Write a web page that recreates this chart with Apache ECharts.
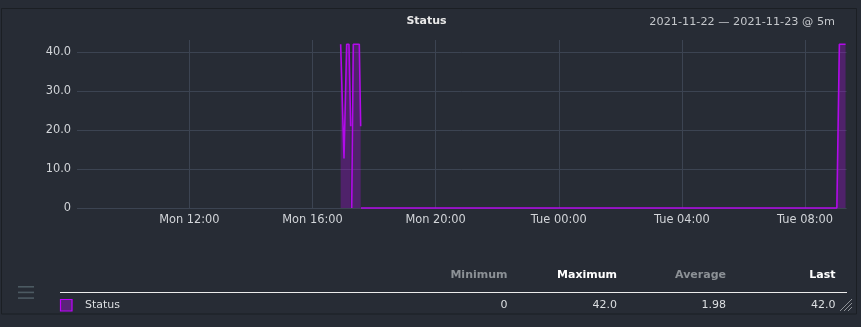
<!DOCTYPE html>
<html>
<head>
<meta charset="utf-8">
<script src="https://cdn.jsdelivr.net/npm/echarts@6/dist/echarts.min.js"></script>
<style>
html,body{margin:0;padding:0;background:#272c35;}
#chart{width:861px;height:327px;}
</style>
</head>
<body>
<div id="chart"></div>
<script>
// time in minutes since Mon 2021-11-22 00:00
const rangeStart = 501;   // Mon 08:21
const rangeEnd = 2001;    // Tue 09:21 (25 h)
const statusTimes  = [1014.9, 1021.4, 1026.6, 1031.1, 1034.4, 1035.4, 1036.4, 1039.5, 1051.2, 1053.9, 1054.2, 1054.5, 1982, 1986.9, 1999];
const statusValues = [42,     12.7,   42,     42,     21,     null,   0,      42,     42,     21,     null,   0,      0,    42,     42];
const xTickMinutes = [720, 960, 1200, 1440, 1680, 1920];
const xTickLabels  = ['Mon 12:00', 'Mon 16:00', 'Mon 20:00', 'Tue 00:00', 'Tue 04:00', 'Tue 08:00'];
const yTicks = [0, 10, 20, 30, 40];
const chartTitle = 'Status';
const rangeText = '2021-11-22 \u2014 2021-11-23 @ 5m';
const legendHeaders = ['Minimum', 'Maximum', 'Average', 'Last'];
const legendValues = ['0', '42.0', '1.98', '42.0'];
const seriesName = 'Status';

const lineColor = '#b20aea';
const fillColor = 'rgba(178,10,234,0.42)';

const data = statusTimes.map((t, i) => [t, statusValues[i] === null ? '-' : statusValues[i]]);

const chart = echarts.init(document.getElementById('chart'), null, {renderer: 'canvas'});

const headerX = [507.5, 617, 726, 835.5];
const headerColors = ['#8c9196', '#ffffff', '#8c9196', '#ffffff'];

const graphics = [
  {type: 'rect', shape: {x: 1.5, y: 8.5, width: 855, height: 305.5}, style: {fill: 'none', stroke: '#1b1f24', lineWidth: 1}, silent: true},
  {type: 'text', x: 426.5, y: 21.5, style: {text: chartTitle, font: 'bold 11px "DejaVu Sans"', fill: '#e8e8e8', textAlign: 'center', textVerticalAlign: 'middle'}},
  {type: 'text', x: 835, y: 22, style: {text: rangeText, font: '11.25px "DejaVu Sans"', fill: '#c4c7cb', textAlign: 'right', textVerticalAlign: 'middle'}},
  {type: 'line', shape: {x1: 60, y1: 292.5, x2: 847, y2: 292.5}, style: {stroke: '#ececec', lineWidth: 1.2}},
  {type: 'rect', shape: {x: 60.5, y: 299.5, width: 11.5, height: 11.5}, style: {fill: '#5a2479', stroke: '#c000ff', lineWidth: 1.2}},
  {type: 'text', x: 85, y: 305, style: {text: seriesName, font: '11px "DejaVu Sans"', fill: '#dcdfe2', textAlign: 'left', textVerticalAlign: 'middle'}},
  // hamburger
  {type: 'rect', shape: {x: 18, y: 286, width: 16, height: 1.6}, style: {fill: '#4c5a62'}},
  {type: 'rect', shape: {x: 18, y: 291.6, width: 16, height: 1.6}, style: {fill: '#4c5a62'}},
  {type: 'rect', shape: {x: 18, y: 297.3, width: 16, height: 1.6}, style: {fill: '#4c5a62'}},
  // resize grip
  {type: 'line', shape: {x1: 840, y1: 311, x2: 852, y2: 299}, style: {stroke: '#8d9196', lineWidth: 1}},
  {type: 'line', shape: {x1: 844, y1: 311, x2: 852, y2: 303}, style: {stroke: '#8d9196', lineWidth: 1}},
  {type: 'line', shape: {x1: 848, y1: 311, x2: 852, y2: 307}, style: {stroke: '#8d9196', lineWidth: 1}}
];
legendHeaders.forEach((h, i) => {
  graphics.push({type: 'text', x: headerX[i], y: 275, style: {text: h, font: 'bold 11px "DejaVu Sans"', fill: headerColors[i], textAlign: 'right', textVerticalAlign: 'middle'}});
  graphics.push({type: 'text', x: headerX[i], y: 305, style: {text: legendValues[i], font: '11px "DejaVu Sans"', fill: '#dcdfe2', textAlign: 'right', textVerticalAlign: 'middle'}});
});

chart.setOption({
  backgroundColor: '#272c35',
  animation: false,
  grid: {left: 77, right: 14.4, top: 40, bottom: 119, containLabel: false},
  xAxis: {
    type: 'value',
    min: rangeStart,
    max: rangeEnd,
    axisLine: {show: false},
    axisTick: {show: false, customValues: xTickMinutes},
    axisLabel: {
      customValues: xTickMinutes,
      color: '#d2d5d9',
      fontFamily: 'DejaVu Sans',
      fontSize: 11.4,
      margin: 6.5,
      formatter: v => xTickLabels[xTickMinutes.indexOf(v)] || ''
    },
    splitLine: {show: true, lineStyle: {color: '#3c4452', width: 1}}
  },
  yAxis: {
    type: 'value',
    min: 0,
    max: 43.1,
    interval: 10,
    axisLine: {show: false},
    axisTick: {show: false},
    axisLabel: {
      color: '#d2d5d9',
      fontFamily: 'DejaVu Sans',
      fontSize: 11.4,
      margin: 6,
      showMaxLabel: false,
      formatter: v => (yTicks.indexOf(v) < 0 ? '' : (v === 0 ? '0' : v.toFixed(1)))
    },
    splitLine: {show: true, showMaxLine: false, lineStyle: {color: '#3c4452', width: 1}}
  },
  series: [{
    name: seriesName,
    type: 'line',
    data: data,
    showSymbol: false,
    symbol: 'none',
    connectNulls: false,
    clip: false,
    lineStyle: {color: lineColor, width: 1.6},
    areaStyle: {color: fillColor, origin: 'start'},
    z: 3
  }],
  graphic: graphics
});
</script>
</body>
</html>
